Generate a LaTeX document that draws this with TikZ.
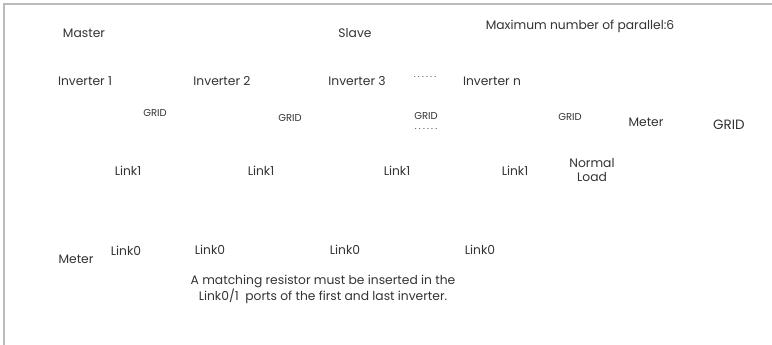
\documentclass[tikz,border=0pt]{standalone}
\usepackage{fontspec}
\setmainfont{Poppins}
\usepackage{xcolor}
\usepackage{tikz}
\usetikzlibrary{positioning}

\definecolor{framegray}{HTML}{BBBBBB}
\definecolor{txtgray}{HTML}{333333}
\newcommand{\sixdots}{.\kern2.2pt.\kern2.2pt.\kern2.2pt.\kern2.2pt.\kern2.2pt.}

\begin{document}
\begin{tikzpicture}[x=1pt,y=-1pt,
    lbl/.style={inner sep=0pt,text=txtgray,font=\fontsize{12.3}{14.5}\selectfont},
    tag/.style={inner sep=0pt,text=txtgray,font=\fontsize{10}{12}\selectfont},
    dots/.style={inner sep=0pt,text=txtgray,font=\fontsize{9}{9}\selectfont}]
    \useasboundingbox (0,0) rectangle (772,345);
    % frame
    \draw[framegray,line width=2pt] (3.5,345) -- (3.5,4.5) -- (772,4.5);

    \node[lbl] (master) at (84,33) {Master};
    \node[lbl] (slave) at (355,33) {Slave};
    \node[lbl] (maxpar) at (580,26) {Maximum number of parallel:6};

    \node[lbl] (inv1) at (85,81) {Inverter 1};
    \node[lbl] (inv2) at (222,81) {Inverter 2};
    \node[lbl] (inv3) at (357,81) {Inverter 3};
    \node[dots] (invdots) at (425,77) {\sixdots};
    \node[lbl] (invn) at (492,81) {Inverter n};

    \node[tag] (grid1) at (155,113) {GRID};
    \node[tag] (grid2) at (290,118) {GRID};
    \node[tag] (grid3) at (426,116) {GRID};
    \node[dots] (griddots) at (426,129) {\sixdots};
    \node[tag] (grid4) at (570,117) {GRID};
    \node[lbl] (meter1) at (646,122) {Meter};
    \node[lbl,font=\fontsize{13.5}{15}\selectfont] (gridmain) at (729,125) {GRID};

    \node[lbl] (linkA1) at (128,171) {Link1};
    \node[lbl] (linkB1) at (261,171) {Link1};
    \node[lbl] (linkC1) at (397,171) {Link1};
    \node[lbl] (linkD1) at (515,171) {Link1};
    \node[lbl,align=center] (load) at (592,170) {Normal\\Load};

    \node[lbl] (meter0) at (76,259) {Meter};
    \node[lbl] (linkA0) at (126,251) {Link0};
    \node[lbl] (linkB0) at (210,250) {Link0};
    \node[lbl] (linkC0) at (345,250) {Link0};
    \node[lbl] (linkD0) at (480,250) {Link0};

    \node[lbl,align=center] (note) at (323,289)
        {A matching resistor must be inserted in the\\Link0/1\ \ ports of the first and last inverter.};
\end{tikzpicture}
\end{document}
